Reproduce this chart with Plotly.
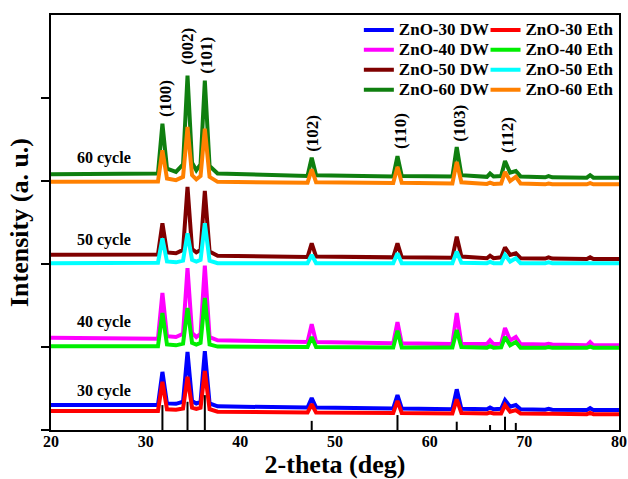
import plotly.graph_objects as go

# ---- data ----
two_theta = [20, 31.3, 31.77, 32.25, 33.2, 33.95, 34.42, 34.9, 35.35, 35.8, 36.25, 36.75, 37.6,
             47.1, 47.54, 48.0, 56.15, 56.6, 57.05, 62.4, 62.86, 63.35, 66.05, 66.38, 66.75,
             67.55, 67.96, 68.5, 69.1, 69.6, 72.2, 72.56, 72.95, 76.6, 76.95, 77.3, 80]

dw30 = [30, 30, 70, 32, 31.5, 34, 94, 35, 32, 34, 95, 32, 28.5, 27, 38.5, 27, 26, 42, 26, 25, 49,
        25.5, 25, 27, 25, 25.5, 36, 28, 30, 25, 24.5, 25.5, 24.5, 24, 26.5, 24, 24]
eth30 = [23, 23, 58, 25, 24.5, 26, 64, 27, 25.5, 27, 71, 25, 22, 21, 31, 21, 20.5, 35, 20.5, 20, 37,
         20.5, 20, 21, 20, 20, 30, 22, 24, 20, 19.5, 20, 19.5, 19, 20.5, 19, 19]
dw40 = [111, 110, 165, 113, 112, 116, 195, 117, 112, 116, 198, 112, 108, 106, 127.5, 106, 104.5, 130,
        104.5, 103.5, 141, 104, 103.5, 108, 103.5, 104, 123, 108, 112, 103.5, 103, 104, 103, 102, 106,
        102, 102]
eth40 = [101, 101, 141, 103, 102, 104, 147, 105, 103, 105, 159, 103, 100.5, 100, 112, 100, 99.5, 119.5,
         99.5, 99.5, 120.5, 100, 99, 101, 99, 99.5, 112, 102, 106, 99, 99, 100, 99, 99, 100.5, 99, 99]
dw50 = [211, 211.5, 249, 214, 213, 217, 293, 218, 214, 217, 288, 215, 210, 208.5, 225, 209, 208, 225,
        208, 207.5, 233, 209, 207, 210, 207, 208, 220, 211, 213, 207, 206.5, 208, 206.5, 206, 208, 206,
        206]
eth50 = [201, 201.5, 231, 203, 202, 204, 237, 205, 203, 205, 249, 204, 201, 201, 211, 201, 201, 213,
         201, 201, 215, 201.5, 201, 202.5, 201, 201, 211, 203, 207, 201, 201, 202, 201, 201, 202, 201,
         201]
dw60 = [308, 309, 369, 315, 311, 320, 427, 322, 313, 320, 421, 318, 309, 306, 328, 307, 305.5, 330,
        306, 305.5, 341, 307, 305, 309, 305.5, 306, 324, 310, 312, 305.5, 304.5, 306, 304.5, 304, 307,
        304, 304]
eth60 = [299, 299.5, 337, 303, 301, 305, 365, 307, 302, 306, 363, 305, 299, 298, 314, 298.5, 297.5, 317,
         298, 297, 323, 298.5, 296.5, 298, 296.5, 297, 311, 300, 305, 297, 296, 297, 296, 296, 297.5,
         296, 296]

series_names = ["ZnO-30 DW", "ZnO-30 Eth", "ZnO-40 DW", "ZnO-40 Eth",
                "ZnO-50 DW", "ZnO-50 Eth", "ZnO-60 DW", "ZnO-60 Eth"]
series_values = [dw30, eth30, dw40, eth40, dw50, eth50, dw60, eth60]
series_colors = ["#0000FF", "#FF0000", "#FF00FF", "#00EE00",
                 "#7F0000", "#00FFFF", "#0F7F0F", "#FF8000"]

# reference pattern sticks
stick_pos = [31.77, 34.42, 36.25, 47.54, 56.60, 62.86, 66.38, 67.96, 69.10]
stick_h = [30, 34, 42, 11, 18, 10, 6, 16, 8.5]

# plane labels
hkl_text = ["(100)", "(002)", "(101)", "(102)", "(110)", "(103)", "(112)"]
hkl_x = [32.04, 34.47, 36.47, 47.67, 56.85, 63.19, 68.23]
hkl_y = [400, 463, 452, 358, 360, 370, 355]

cycle_text = ["30 cycle", "40 cycle", "50 cycle", "60 cycle"]
cycle_y = [47, 130, 229, 328]

for v in series_values:
    assert len(v) == len(two_theta)

FONT = "Liberation Serif, Times New Roman, serif"

fig = go.Figure()

for i, (name, vals, col) in enumerate(zip(series_names, series_values, series_colors)):
    fig.add_trace(go.Scatter(
        x=two_theta, y=vals, mode="lines", name='<span style="font-size:17px">' + name + '</span>',
        line=dict(color=col, width=4),
        legend="legend" if i % 2 == 0 else "legend2",
    ))

sx, sy = [], []
for p, h in zip(stick_pos, stick_h):
    sx += [p, p, None]
    sy += [0, h, None]
fig.add_trace(go.Scatter(x=sx, y=sy, mode="lines", line=dict(color="black", width=2),
                         showlegend=False, hoverinfo="skip"))

for t, x, y in zip(hkl_text, hkl_x, hkl_y):
    fig.add_annotation(x=x, y=y, text=t, textangle=-90, showarrow=False,
                       font=dict(family=FONT, size=17, color="black", weight="bold"))

for t, y in zip(cycle_text, cycle_y):
    fig.add_annotation(x=22.5, y=y, text=t, xanchor="left", showarrow=False,
                       font=dict(family=FONT, size=16, color="black", weight="bold"))

legend_common = dict(
    yanchor="top", y=1.0, xanchor="left", orientation="v",
    bgcolor="rgba(0,0,0,0)", borderwidth=0, tracegroupgap=0,
    font=dict(family=FONT, size=13, color="black", weight="bold"),
)

fig.update_layout(
    width=628, height=479,
    margin=dict(l=51, r=9, t=15, b=49),
    paper_bgcolor="white", plot_bgcolor="white",
    showlegend=True,
    legend=dict(x=0.542, **legend_common),
    legend2=dict(x=0.765, **legend_common),
    xaxis=dict(
        range=[20, 80], tickvals=[20, 30, 40, 50, 60, 70, 80], ticks="",
        automargin=False, ticklabelstandoff=-4,
        showline=True, mirror=True, linecolor="black", linewidth=2,
        showgrid=False, zeroline=False,
        tickfont=dict(family=FONT, size=16, color="black", weight="bold"),
        title=dict(text="2-theta (deg)", standoff=3,
                   font=dict(family=FONT, size=26, color="black", weight="bold")),
    ),
    yaxis=dict(
        range=[0, 500], tickvals=[0, 100, 200, 300, 400], showticklabels=False,
        automargin=False,
        ticks="outside", ticklen=8, tickwidth=2, tickcolor="black",
        showline=True, mirror=True, linecolor="black", linewidth=2,
        showgrid=False, zeroline=False,
        title=dict(text="Intensity (a. u.)", standoff=5,
                   font=dict(family=FONT, size=26, color="black", weight="bold")),
    ),
)

fig.write_html("out.html", config={"displayModeBar": False},
               post_script="document.body.style.margin='0';document.body.style.overflow='hidden';")
